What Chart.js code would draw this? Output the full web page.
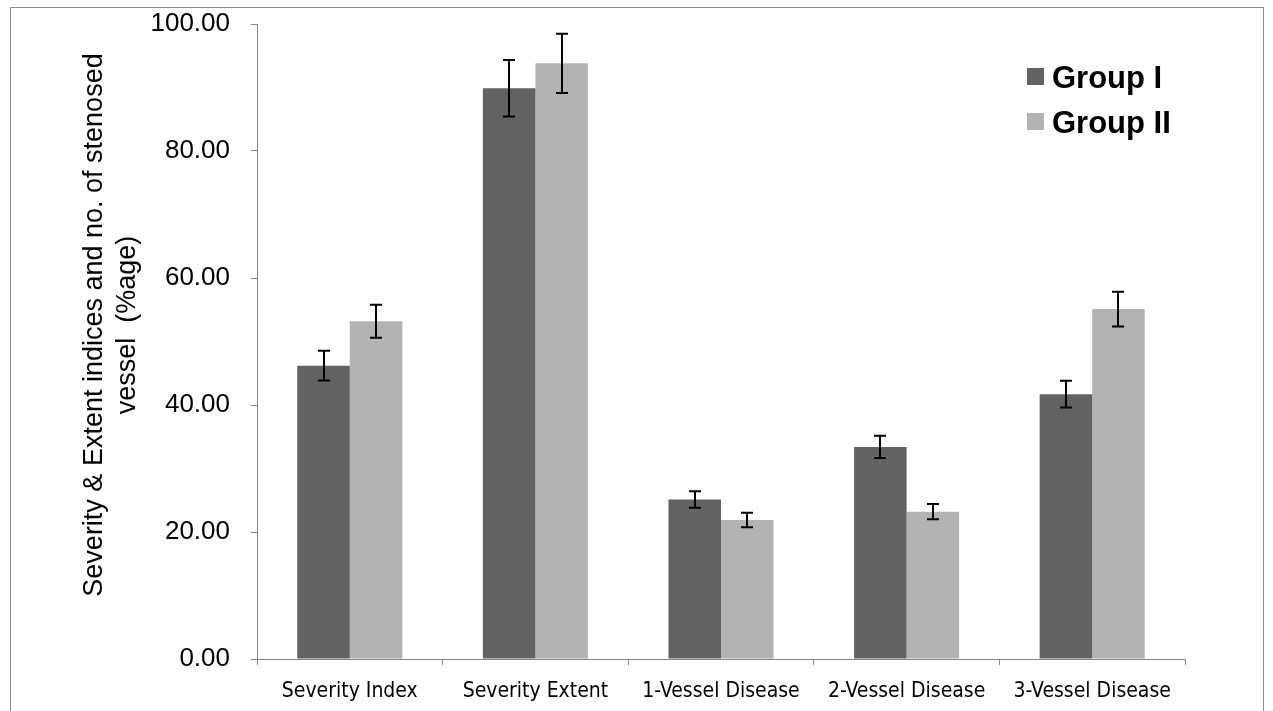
<!DOCTYPE html>
<html>
<head>
<meta charset="utf-8">
<script src="https://cdn.jsdelivr.net/npm/chart.js@4.4.1/dist/chart.umd.min.js"></script>
<style>
html,body{margin:0;padding:0;background:#fff;}
#wrap{width:1273px;height:711px;position:relative;}
</style>
</head>
<body>
<div id="wrap"><canvas id="c" width="1273" height="711"></canvas></div>
<script>
const categories = ['Severity Index', 'Severity Extent', '1-Vessel Disease', '2-Vessel Disease', '3-Vessel Disease'];
const group1Values = [46.2, 89.9, 25.1, 33.4, 41.7];
const group1Errors = [2.35, 4.45, 1.3, 1.75, 2.1];
const group2Values = [53.2, 93.8, 21.9, 23.2, 55.1];
const group2Errors = [2.6, 4.65, 1.15, 1.2, 2.75];
const seriesNames = ['Group I', 'Group II'];
const yAxisTitle = ['Severity & Extent indices and no. of stenosed', 'vessel  (%age)'];

const errorsBySeries = [group1Errors, group2Errors];

const frame = {
  id: 'frame',
  beforeDraw(chart) {
    const ctx = chart.ctx;
    ctx.save();
    ctx.fillStyle = '#fff';
    ctx.fillRect(0, 0, chart.width, chart.height);
    ctx.strokeStyle = '#8c8c8c';
    ctx.lineWidth = 1;
    ctx.strokeRect(10.5, 7.5, 1253, 720);
    ctx.restore();
  }
};

const yTitle = {
  id: 'yTitle',
  afterDraw(chart) {
    const ctx = chart.ctx;
    ctx.save();
    ctx.font = '27px "Liberation Sans", Arial, sans-serif';
    ctx.fillStyle = '#000';
    ctx.textAlign = 'center';
    ctx.textBaseline = 'middle';
    ctx.translate(95, 325);
    ctx.rotate(-Math.PI / 2);
    yAxisTitle.forEach((line, i) => ctx.fillText(line, 0, i * 33));
    ctx.restore();
  }
};

const errorBars = {
  id: 'errorBars',
  afterDatasetsDraw(chart) {
    const ctx = chart.ctx;
    const y = chart.scales.y;
    ctx.save();
    ctx.strokeStyle = '#000';
    ctx.lineWidth = 2;
    chart.data.datasets.forEach((ds, di) => {
      const meta = chart.getDatasetMeta(di);
      meta.data.forEach((bar, i) => {
        const v = ds.data[i], e = errorsBySeries[di][i];
        const x = Math.round(bar.x);
        const yt = y.getPixelForValue(v + e), yb = y.getPixelForValue(v - e);
        ctx.beginPath();
        ctx.moveTo(x, yt); ctx.lineTo(x, yb);
        ctx.moveTo(x - 6, yt); ctx.lineTo(x + 6, yt);
        ctx.moveTo(x - 6, yb); ctx.lineTo(x + 6, yb);
        ctx.stroke();
      });
    });
    ctx.restore();
  }
};

const legendBox = {
  id: 'legendBox',
  afterDraw(chart) {
    const ctx = chart.ctx;
    ctx.save();
    ctx.font = 'bold 31px "Liberation Sans", Arial, sans-serif';
    ctx.textBaseline = 'alphabetic';
    chart.data.datasets.forEach((ds, i) => {
      const top = 68 + i * 45;
      ctx.fillStyle = ds.backgroundColor;
      ctx.fillRect(1027, top, 17, 17);
      ctx.fillStyle = '#000';
      ctx.fillText(ds.label, 1052, top + 20);
    });
    ctx.restore();
  }
};

new Chart(document.getElementById('c'), {
  type: 'bar',
  data: {
    labels: categories,
    datasets: [
      { label: seriesNames[0], data: group1Values, backgroundColor: '#626262', borderWidth: 0 },
      { label: seriesNames[1], data: group2Values, backgroundColor: '#b3b3b3', borderWidth: 0 }
    ]
  },
  options: {
    responsive: false,
    animation: false,
    devicePixelRatio: 1,
    layout: { padding: { top: 24, right: 88, left: 0, bottom: 0 } },
    plugins: { legend: { display: false }, tooltip: { enabled: false } },
    datasets: { bar: { barPercentage: 1.0, categoryPercentage: 0.566 } },
    scales: {
      x: {
        afterFit: s => { s.height = 52; s.paddingLeft = 0; s.paddingRight = 0; },
        grid: { display: true, drawOnChartArea: false, offset: true, color: '#868686', tickLength: 6, lineWidth: 1 },
        border: { display: true, color: '#868686', width: 1 },
        ticks: { color: '#000', padding: 14, maxRotation: 0, autoSkip: false,
                 font: { family: '"Liberation Sans Narrow", "DejaVu Sans Condensed", sans-serif', size: 21 } }
      },
      y: {
        min: 0, max: 100,
        afterFit: s => { s.width = 257; s.paddingTop = 0; s.paddingBottom = 0; },
        grid: { display: true, drawOnChartArea: false, color: '#868686', tickLength: 6, lineWidth: 1 },
        border: { display: true, color: '#868686', width: 1 },
        ticks: { stepSize: 20, color: '#000', padding: 21,
                 font: { family: '"Liberation Sans", Arial, sans-serif', size: 26 },
                 callback: v => Number(v).toFixed(2) },
        title: { display: false }
      }
    }
  },
  plugins: [frame, errorBars, legendBox, yTitle]
});
</script>
</body>
</html>
